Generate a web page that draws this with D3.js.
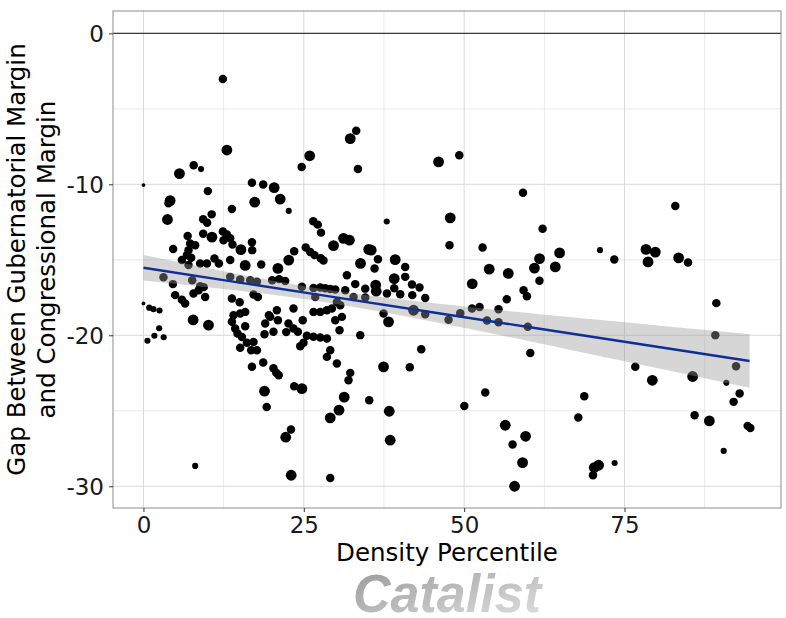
<!DOCTYPE html>
<html>
<head>
<meta charset="utf-8">
<script src="https://cdn.jsdelivr.net/npm/d3@7"></script>
<style>
  body { margin: 0; background: #fff; }
  text { font-family: 'DejaVu Sans', sans-serif; }
</style>
</head>
<body>
<script>
// density percentile (x), gubernatorial - congressional margin gap (y), point size class
var densityPct = [
  12.38,13.01,0,5.61,7.83,8.97,10.04,4.16,
  3.90,3.74,4.63,6.89,7.28,8.06,7.02,9.31,
  9.93,10.64,9.31,10.68,12.38,13.01,13.52,13.88,
  12.48,15.19,16.91,16.95,13.79,16.91,18.67,20.38,
  21.32,17.34,22.65,24.67,25.92,26.47,27.17,27.68,
  32.24,33.17,33.44,37.93,23.50,25.30,26.00,26.67,
  27.64,28.07,29.63,31.19,32.11,35.12,35.51,36.56,
  39.25,33.84,31.72,22.65,20.96,18.36,15.86,13.52,
  11.76,11.07,9.89,8.84,7.44,5.99,6.77,7.02,
  39.10,39.10,40.03,36.03,36.21,36.29,34.58,33.02,
  31.46,40.81,40.81,41.86,43.04,43.93,41.91,3.12,
  4.59,7.60,8.84,4.94,5.99,6.50,7.80,8.61,
  9.39,9.62,13.52,15.08,16.64,17.69,17.16,17.84,
  15.00,13.79,20.07,21.16,22.10,24.70,26.51,27.56,
  28.34,29.12,29.90,26.78,32.75,34.58,37.96,30.16,
  30.68,42.11,20.80,19.76,23.39,26.51,27.56,28.60,
  29.38,29.90,30.94,24.83,22.61,22.26,23.39,24.08,
  30.57,37.43,38.21,25.48,26.51,27.56,28.60,24.95,
  24.44,33.80,20.27,29.12,28.60,30.16,43.31,41.52,
  0,0.89,1.56,2.50,0.62,1.70,2.45,3.15,
  7.75,10.14,8.06,14.04,15.08,15.86,13.79,14.30,
  14.66,15.35,15.86,16.13,15.08,16.80,17.69,17.16,
  16.91,18.67,18.87,19.21,20.27,20.70,21.09,18.98,
  19.56,20.96,18.87,22.18,23.00,23.03,23.50,24.70,
  29.12,29.12,30.49,31.30,31.97,32.24,35.20,37.43,
  38.32,38.47,46.01,49.24,59.17,62.23,47.83,47.72,
  52.87,53.91,56.88,51.26,61.76,64.88,60.96,61.74,
  64.21,59.26,59.79,56.64,43.93,47.57,49.39,51.22,
  52.40,53.56,55.36,55.36,59.92,71.18,73.41,78.35,
  79.80,78.67,82.92,83.44,84.90,89.32,89.16,92.39,
  90.88,85.62,92.95,92.01,85.93,88.23,90.46,94.20,
  94.62,76.68,79.34,68.73,67.80,70.09,70.29,70.96,
  73.46,56.41,57.55,59.58,59.11,57.86,50.02,53.29,
  60.31
];
var marginGap = [
  -3.03,-7.73,-10.05,-9.29,-8.73,-8.99,-10.45,-11.08,
  -11.25,-12.33,-14.29,-13.43,-13.92,-14.03,-14.36,-12.31,
  -12.54,-11.99,-13.27,-13.50,-13.12,-13.33,-13.57,-13.98,
  -13.70,-14.33,-13.83,-14.36,-11.63,-9.89,-10.01,-10.22,
  -10.98,-11.18,-11.76,-8.86,-8.11,-12.44,-12.67,-13.20,
  -6.97,-6.45,-8.99,-12.46,-14.43,-14.19,-14.49,-14.69,
  -14.89,-15.04,-14.06,-13.58,-13.70,-14.31,-14.36,-14.96,
  -14.99,-15.24,-16.02,-15.02,-15.57,-15.31,-15.37,-15.02,
  -15.24,-14.91,-15.24,-15.24,-14.87,-15.02,-14.69,-15.35,
  -16.25,-16.88,-17.28,-15.57,-16.68,-17.08,-16.91,-16.61,
  -17.01,-15.47,-16.13,-16.63,-16.83,-17.53,-17.34,-16.15,
  -16.61,-16.35,-16.75,-17.34,-17.64,-17.89,-17.23,-17.01,
  -16.81,-17.46,-16.13,-16.30,-16.35,-16.46,-17.30,-17.46,
  -17.81,-17.56,-16.35,-16.28,-16.41,-16.79,-16.86,-16.83,
  -16.88,-16.94,-16.96,-17.46,-17.46,-17.49,-17.23,-17.79,
  -18.01,-18.34,-18.34,-18.78,-18.22,-18.45,-18.45,-18.34,
  -18.22,-19.00,-18.78,-19.00,-19.22,-19.79,-19.55,-19.77,
  -19.66,-18.56,-19.11,-20.03,-20.09,-20.15,-20.21,-20.50,
  -20.72,-19.99,-19.77,-20.99,-21.43,-21.87,-20.92,-22.11,
  -17.89,-18.17,-18.27,-18.36,-20.36,-20.03,-19.53,-20.13,
  -18.98,-19.33,-28.65,-18.67,-18.56,-18.45,-19.11,-19.55,
  -19.88,-20.11,-19.40,-20.50,-20.83,-20.99,-20.99,-20.44,
  -22.09,-21.80,-23.70,-24.75,-22.18,-22.48,-22.64,-19.22,
  -18.67,-19.00,-19.93,-26.75,-26.24,-29.27,-23.37,-23.53,
  -25.47,-29.45,-24.96,-24.10,-22.98,-22.49,-24.30,-22.09,
  -25.03,-26.95,-8.51,-8.07,-10.56,-12.94,-12.22,-14.03,
  -14.19,-15.62,-15.90,-16.59,-14.92,-14.54,-15.55,-16.39,
  -15.47,-17.01,-17.41,-17.61,-18.60,-18.97,-18.54,-18.22,
  -18.12,-19.02,-18.27,-19.13,-19.43,-14.36,-14.98,-14.31,
  -14.49,-15.14,-11.44,-14.87,-15.18,-17.87,-19.99,-22.05,
  -23.15,-22.73,-23.86,-24.41,-25.30,-25.67,-27.66,-26.00,
  -26.14,-22.09,-22.98,-24.04,-25.45,-29.27,-28.76,-28.61,
  -28.46,-25.96,-27.24,-26.69,-28.43,-30.00,-24.68,-23.79,
  -21.17
];
var pointSize = [
  3,4,1,4,3,2,3,4,
  3,4,3,3,3,3,3,3,
  3,3,3,4,3,3,3,3,
  3,4,3,3,3,3,3,4,
  4,4,2,3,4,3,3,3,
  4,3,3,2,3,3,3,3,
  3,3,4,4,4,4,4,3,
  4,4,3,4,4,3,4,3,
  3,3,3,3,3,3,3,3,
  4,3,3,3,4,4,3,3,
  3,3,3,3,3,3,3,3,
  3,3,3,3,3,3,3,3,
  3,3,3,3,3,3,3,3,
  3,3,3,3,3,3,3,3,
  3,3,3,3,3,3,3,3,
  3,4,3,3,3,3,3,3,
  3,3,3,3,3,3,3,3,
  3,3,4,3,3,3,3,3,
  3,3,3,3,3,3,3,3,
  1,2,2,2,2,2,2,2,
  4,4,2,3,3,3,3,3,
  3,3,3,3,3,3,3,3,
  3,3,4,3,3,3,3,3,
  3,3,3,4,3,4,3,4,
  4,3,4,4,3,3,3,4,
  4,4,4,3,3,3,4,3,
  3,4,4,4,4,4,4,3,
  4,3,3,3,3,3,3,3,
  3,3,3,3,3,2,3,4,
  4,4,3,4,3,3,3,3,
  2,4,3,3,3,4,2,3,
  3,3,4,3,3,3,4,4,
  2,4,3,4,4,4,3,3,
  3
];

// linear fit and its confidence band
var fitX  = [0, 15, 30, 45, 60, 75, 94.5];
var fitY  = [-15.53, -16.51, -17.49, -18.47, -19.45, -20.43, -21.70];
var fitLo = [-16.37, -17.05, -17.92, -19.08, -20.38, -21.72, -23.47];
var fitHi = [-14.69, -15.97, -17.06, -17.86, -18.52, -19.14, -19.93];

var xTicks = [0, 25, 50, 75];
var xMinor = [12.5, 37.5, 62.5, 87.5];
var yTicks = [-30, -20, -10, 0];
var yMinor = [-25, -15, -5];

var W = 786, H = 618;
var pLeft = 113, pRight = 781, pTop = 11, pBottom = 508;

var svg = d3.select('body').append('svg')
  .attr('width', W)
  .attr('height', H);

svg.append('rect').attr('width', W).attr('height', H).attr('fill', '#fff');

var x = d3.scaleLinear().domain([-4.75, 99.4]).range([pLeft, pRight]);
var y = d3.scaleLinear().domain([-31.44, 1.48]).range([pBottom, pTop]);
var r = d3.scaleLinear().domain([1, 4]).range([1.9, 5.4]);

// grid
var grid = svg.append('g');
grid.selectAll('line.xminor').data(xMinor).enter().append('line')
  .attr('x1', x).attr('x2', x).attr('y1', pTop).attr('y2', pBottom)
  .attr('stroke', '#e4e4e4').attr('stroke-width', 0.8);
grid.selectAll('line.yminor').data(yMinor).enter().append('line')
  .attr('y1', y).attr('y2', y).attr('x1', pLeft).attr('x2', pRight)
  .attr('stroke', '#e4e4e4').attr('stroke-width', 0.8);
grid.selectAll('line.xmajor').data(xTicks).enter().append('line')
  .attr('x1', x).attr('x2', x).attr('y1', pTop).attr('y2', pBottom)
  .attr('stroke', '#d9d9d9').attr('stroke-width', 1);
grid.selectAll('line.ymajor').data(yTicks).enter().append('line')
  .attr('y1', y).attr('y2', y).attr('x1', pLeft).attr('x2', pRight)
  .attr('stroke', '#d9d9d9').attr('stroke-width', 1);

// reference line at zero
svg.append('line')
  .attr('x1', pLeft).attr('x2', pRight)
  .attr('y1', y(0)).attr('y2', y(0))
  .attr('stroke', '#3a3a3a').attr('stroke-width', 1.4);

// points
var n = Math.min(densityPct.length, marginGap.length, pointSize.length);
svg.append('g').selectAll('circle')
    .data(d3.range(n))
  .enter().append('circle')
    .attr('cx', function(i) { return x(densityPct[i]); })
    .attr('cy', function(i) { return y(marginGap[i]); })
    .attr('r', function(i) { return r(pointSize[i]); })
    .attr('fill', '#000');

// confidence band + fit
var fitIdx = d3.range(fitX.length);
svg.append('path')
  .datum(fitIdx)
  .attr('d', d3.area()
    .x(function(i) { return x(fitX[i]); })
    .y0(function(i) { return y(fitLo[i]); })
    .y1(function(i) { return y(fitHi[i]); })
    .curve(d3.curveNatural))
  .attr('fill', '#999999')
  .attr('fill-opacity', 0.4);

svg.append('path')
  .datum(fitIdx)
  .attr('d', d3.line()
    .x(function(i) { return x(fitX[i]); })
    .y(function(i) { return y(fitY[i]); }))
  .attr('fill', 'none')
  .attr('stroke', '#0f2f96')
  .attr('stroke-width', 2.4);

// panel border
svg.append('rect')
  .attr('x', pLeft).attr('y', pTop)
  .attr('width', pRight - pLeft).attr('height', pBottom - pTop)
  .attr('fill', 'none').attr('stroke', '#8c8c8c').attr('stroke-width', 1);

// axes
var xAxis = svg.append('g')
  .attr('transform', 'translate(0,' + pBottom + ')')
  .call(d3.axisBottom(x).tickValues(xTicks).tickSize(4).tickPadding(5)
    .tickFormat(function(d) { return String(d); }));
var yAxis = svg.append('g')
  .attr('transform', 'translate(' + pLeft + ',0)')
  .call(d3.axisLeft(y).tickValues(yTicks).tickSize(4).tickPadding(5)
    .tickFormat(function(d) { return String(d); }));

[xAxis, yAxis].forEach(function(a) {
  a.select('.domain').remove();
  a.selectAll('.tick line').attr('stroke', '#333');
  a.selectAll('.tick text')
    .style('font-family', "'DejaVu Sans', sans-serif")
    .style('font-size', '23px')
    .attr('fill', '#1a1a1a');
});
yAxis.selectAll('.tick text').attr('dy', '0.36em');

// titles
svg.append('text')
  .text('Density Percentile')
  .attr('x', (pLeft + pRight) / 2)
  .attr('y', 561)
  .attr('text-anchor', 'middle')
  .style('font-size', '24.5px')
  .attr('fill', '#000');

var yTitle = svg.append('text')
  .attr('transform', 'translate(0,' + ((pTop + pBottom) / 2) + ') rotate(-90)')
  .attr('text-anchor', 'middle')
  .style('font-size', '24.5px')
  .attr('fill', '#000');
yTitle.append('tspan').attr('x', 0).attr('y', 25).text('Gap Between Gubernatorial Margin');
yTitle.append('tspan').attr('x', 0).attr('y', 55).text('and Congressional Margin');

// watermark
var grad = svg.append('defs').append('linearGradient')
  .attr('id', 'logoGrad')
  .attr('x1', '0%').attr('y1', '0%').attr('x2', '100%').attr('y2', '100%');
grad.append('stop').attr('offset', '0%').attr('stop-color', '#989898');
grad.append('stop').attr('offset', '100%').attr('stop-color', '#e2e2e2');

svg.append('text')
  .text('Catalist')
  .attr('x', 353)
  .attr('y', 612)
  .attr('textLength', 188)
  .attr('lengthAdjust', 'spacingAndGlyphs')
  .style('font-family', "'Liberation Sans', Arial, sans-serif")
  .style('font-size', '53px')
  .style('font-weight', 'bold')
  .style('font-style', 'italic')
  .attr('fill', 'url(#logoGrad)');
</script>
</body>
</html>
